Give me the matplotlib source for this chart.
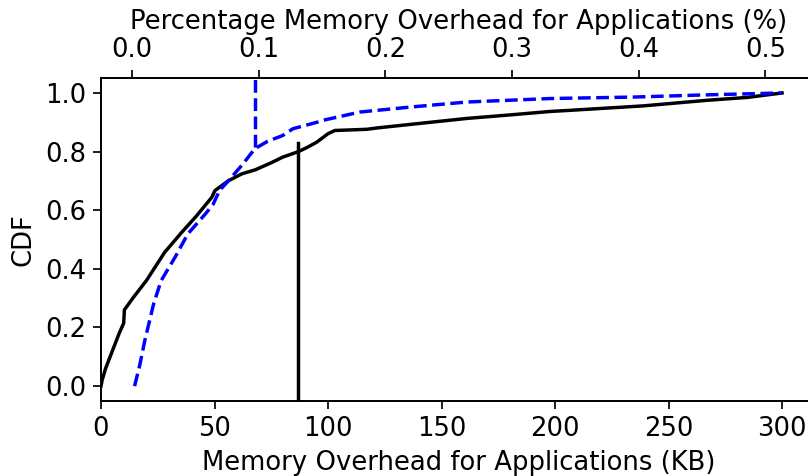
import numpy as n
import matplotlib
matplotlib.use('Agg')
import matplotlib.pyplot as plt

#Overhead DATA

kb_vals = [0, 0.5, 2, 4, 6, 8, 10, 10.3, 14, 20, 28, 35.5, 42, 48.8, 50.2, 56, 62, 68,
           75, 80, 87, 91, 95, 100, 103, 117, 122, 139, 161, 180, 198, 205, 239, 267, 285, 300]
kb_cdf = [0, 0.02, 0.06, 0.10, 0.14, 0.18, 0.215, 0.26, 0.30, 0.36, 0.456, 0.524, 0.58, 0.644,
          0.667, 0.70, 0.724, 0.738, 0.762, 0.781, 0.80, 0.815, 0.832, 0.861, 0.872, 0.876,
          0.881, 0.895, 0.913, 0.925, 0.937, 0.940, 0.956, 0.975, 0.985, 1.0]

pct_vals = [0.002, 0.006, 0.010, 0.017, 0.023, 0.034, 0.044, 0.058, 0.064, 0.069, 0.076,
            0.087, 0.097, 0.107, 0.119, 0.127, 0.146, 0.151, 0.180, 0.220, 0.264, 0.330,
            0.396, 0.449, 0.513]
pct_cdf = [0.0, 0.07, 0.154, 0.28, 0.36, 0.44, 0.519, 0.588, 0.62, 0.667, 0.70, 0.755,
           0.81, 0.835, 0.855, 0.878, 0.90, 0.907, 0.935, 0.952, 0.969, 0.981, 0.986,
           0.993, 1.0]

kb_mark = 87       #KB
pct_mark = 0.097   #%

plt.rcParams['font.size'] = 12

dpi = 155
fig = plt.figure(figsize=(808 / dpi, 476 / dpi), dpi=dpi)
ax = fig.add_axes([0.125, 0.158, 0.885, 0.6775])

ax.plot(kb_vals, kb_cdf, '-k', lw=1.6)
ax.axvline(kb_mark, ymax=0.8, color='k', lw=1.6)
ax.set_xlim(0, 315)
ax.set_ylim(-0.05, 1.05)
ax.set_xticks([0, 50, 100, 150, 200, 250, 300])
ax.set_yticks([0.0, 0.2, 0.4, 0.6, 0.8, 1.0])
ax.set_xlabel('Memory Overhead for Applications (KB)')
ax.set_ylabel('CDF')

ax2 = ax.twiny()
ax2.plot(pct_vals, pct_cdf, '--b', lw=1.6)
ax2.axvline(pct_mark, ymin=0.787, color='b', ls='--', lw=1.6)
ax2.set_xlim(-0.0245, 0.540)
ax2.set_xticks([0.0, 0.1, 0.2, 0.3, 0.4, 0.5])
ax2.set_xlabel('Percentage Memory Overhead for Applications (%)')

fig.savefig('out.png', dpi=dpi)
